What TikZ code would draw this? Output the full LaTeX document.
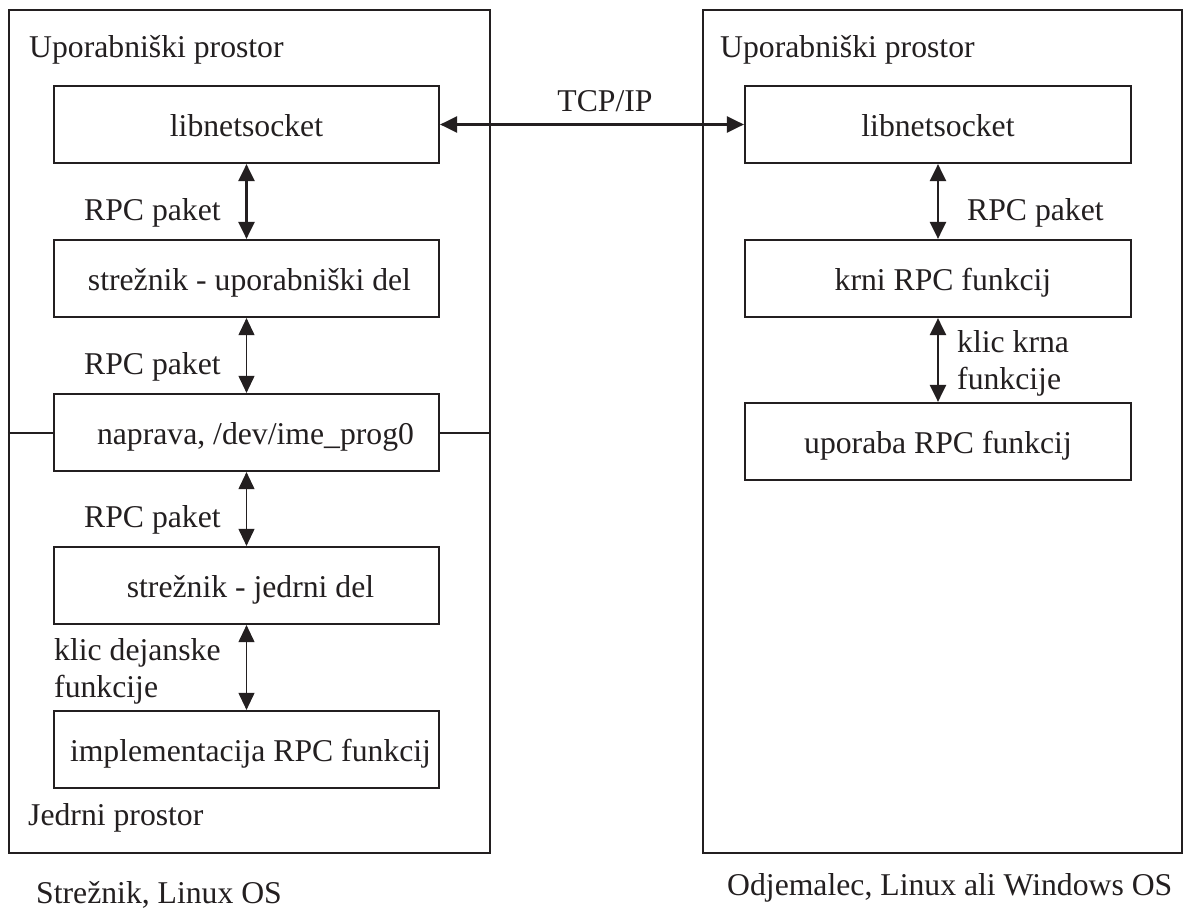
\documentclass[tikz,border=0pt]{standalone}
\usepackage{fontspec}
\setmainfont{Liberation Serif}
\usetikzlibrary{arrows.meta}
\definecolor{ink}{HTML}{231F20}
\begin{document}
\begin{tikzpicture}[x=1pt,y=-1pt,
  every node/.style={text=ink, font=\fontsize{31.7}{37}\selectfont},
  outerbox/.style={draw=ink, line width=2.4pt, minimum width=#1, minimum height=843pt, inner sep=0pt},
  innerbox/.style={draw=ink, line width=2.2pt, minimum width=385pt, minimum height=77pt, inner sep=0pt,
    text height=24pt, text depth=-5pt},
  lbl/.style={inner sep=0pt, anchor=base west, align=left},
  thicklink/.style={draw=ink, line width=2.4pt, {Triangle[length=17pt,width=16pt]}-{Triangle[length=17pt,width=16pt]}},
  thinlink/.style={draw=ink, line width=1pt, {Triangle[length=17pt,width=16pt]}-{Triangle[length=17pt,width=16pt]}},
  divider/.style={draw=ink, line width=2pt}]
\useasboundingbox (0,0) rectangle (1184,909);
\fill[white] (0,0) rectangle (1184,909);

% outer frames: server and client
\node[outerbox=481pt] (srv) at (249.5,431.5) {};
\node[outerbox=479pt] (cli) at (942.5,431.5) {};

% server stack
\node[innerbox] (slib) at (246.5,124.5) {libnetsocket};
\node[innerbox] (susr) at (246.5,278.5) {\hspace*{6pt}strežnik - uporabniški del};
\node[innerbox] (sdev) at (246.5,432.5) {\hspace*{18pt}naprava, /dev/ime\_prog0};
\node[innerbox] (sker) at (246.5,585.5) {\hspace*{8pt}strežnik - jedrni del};
\node[innerbox] (simp) at (246.5,749.5) {\hspace*{8pt}implementacija RPC funkcij};

% client stack
\node[innerbox, minimum width=386pt] (clib) at (938,124.5) {libnetsocket};
\node[innerbox, minimum width=386pt] (cstb) at (938,278.5) {\hspace*{10pt}krni RPC funkcij};
\node[innerbox, minimum width=386pt] (cuse) at (938,441.5) {uporaba RPC funkcij};

% user / kernel space split on the server
\draw[divider] (srv.west |- sdev.west) -- (sdev.west);
\draw[divider] (sdev.east) -- (srv.east |- sdev.east);

% region and frame captions
\node[lbl] (su) at (29,58) {Uporabniški prostor};
\node[lbl] (cu) at (720,58) {Uporabniški prostor};
\node[lbl] (sk) at (28,825) {Jedrni prostor};
\node[lbl] (sc) at (36,903) {Strežnik, Linux OS};
\node[lbl] (cc) at (727,895) {Odjemalec, Linux ali Windows OS};

% connectors
\draw[thicklink] (slib.east) -- (clib.west);
\node[inner sep=0pt, anchor=base] (tcp) at (605,112) {TCP/IP};
\draw[thicklink] (slib.south) -- (susr.north);
\draw[thinlink] (susr.south) -- (sdev.north);
\draw[thinlink] (sdev.south) -- (sker.north);
\draw[thinlink] (sker.south) -- (simp.north);
\draw[thicklink] (clib.south) -- (cstb.north);
\draw[thicklink] (cstb.south) -- (cuse.north);

% connector labels (base anchor sits on the last line)
\node[lbl] (p1) at (84,221) {RPC paket};
\node[lbl] (p2) at (84,375) {RPC paket};
\node[lbl] (p3) at (84,527) {RPC paket};
\node[lbl] (k1) at (54,697) {klic dejanske\\funkcije};
\node[lbl] (p4) at (967,221) {RPC paket};
\node[lbl] (k2) at (957,390) {klic krna\\funkcije};
\end{tikzpicture}
\end{document}
